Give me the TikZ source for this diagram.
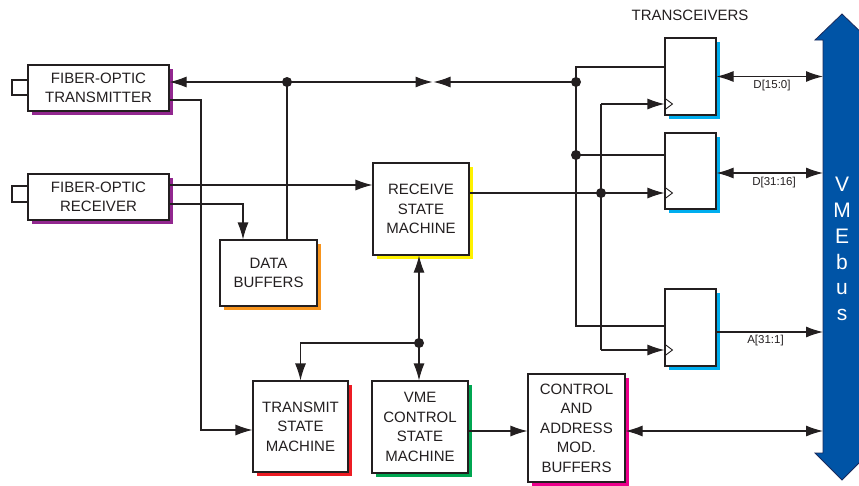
\documentclass[tikz,border=0pt]{standalone}
\usepackage{fontspec}
\setmainfont{Liberation Sans}
\usetikzlibrary{arrows.meta,shadows}
\definecolor{ink}{HTML}{231F20}
\definecolor{cpurple}{HTML}{92278F}
\definecolor{corange}{HTML}{F7941D}
\definecolor{cyellow}{HTML}{FFF200}
\definecolor{cred}{HTML}{ED1C24}
\definecolor{cgreen}{HTML}{00A651}
\definecolor{cmagenta}{HTML}{EC008C}
\definecolor{ccyan}{HTML}{00AEEF}
\definecolor{vmeblue}{HTML}{0054A6}
\definecolor{vmeedge}{HTML}{1B2A5C}
\begin{document}
\begin{tikzpicture}[x=1pt,y=-1pt,
  box/.style={draw=ink, fill=white, line width=1.1pt, inner sep=0pt, align=center,
    font=\fontsize{15}{19.5}\selectfont, text=ink},
  sh/.style={drop shadow={fill=#1, opacity=1, shadow xshift=3.5pt, shadow yshift=-3.5pt}},
  wire/.style={draw=ink, line width=1.1pt},
  arr/.style={wire, -{Latex[length=17pt,width=11pt]}},
  darr/.style={wire, {Latex[length=17pt,width=11pt]}-{Latex[length=17pt,width=11pt]}},
  dot/.style={circle, fill=ink, inner sep=0pt, minimum size=10pt},
  lab/.style={font=\fontsize{11.5}{13}\selectfont, text=ink, inner sep=0pt},
  ttl/.style={font=\fontsize{15}{18}\selectfont, text=ink, inner sep=0pt},
  clk/.style={draw=ink, line width=0.9pt}
]
\useasboundingbox (0,0) rectangle (859,485);

% VMEbus arrow
\filldraw[fill=vmeblue, draw=vmeedge, line width=0.8pt]
  (842,14) -- (869,40) -- (861,40) -- (861,453) -- (869,453) -- (842,480)
  -- (815,453) -- (823,453) -- (823,40) -- (815,40) -- cycle;
\node[font=\fontsize{21}{25.8}\selectfont, text=white, align=center, inner sep=0pt]
  (vmebus) at (842,249) {V\\M\\E\\b\\u\\s};
\coordinate (bus) at (823,0);

% boxes
\node[box, sh=cpurple, minimum width=141pt, minimum height=46pt] (fot) at (98.5,88) {FIBER-OPTIC\\TRANSMITTER};
\node[box, sh=cpurple, minimum width=141pt, minimum height=46pt] (for) at (98.5,197) {FIBER-OPTIC\\RECEIVER};
\node[box, minimum width=16pt, minimum height=15pt] (fotc) at (20,87.5) {};
\node[box, minimum width=16pt, minimum height=16pt] (forc) at (20,194) {};
\node[box, sh=corange, minimum width=97pt, minimum height=66pt] (db) at (268.5,273) {DATA\\BUFFERS};
\node[box, sh=cyellow, minimum width=96pt, minimum height=92pt] (rsm) at (421,209) {RECEIVE\\STATE\\MACHINE};
\node[box, sh=cred, minimum width=95pt, minimum height=91pt] (tsm) at (300.5,426.5) {TRANSMIT\\STATE\\MACHINE};
\node[box, sh=cgreen, minimum width=96pt, minimum height=92pt] (vme) at (420,427) {VME\\CONTROL\\STATE\\MACHINE};
\node[box, sh=cmagenta, minimum width=97pt, minimum height=108pt] (cab) at (576.5,428) {CONTROL\\AND\\ADDRESS\\MOD.\\BUFFERS};
\node[box, sh=ccyan, minimum width=51pt, minimum height=77pt] (t1) at (690.5,76.5) {};
\node[box, sh=ccyan, minimum width=51pt, minimum height=76pt] (t2) at (690.5,171) {};
\node[box, sh=ccyan, minimum width=51pt, minimum height=77pt] (t3) at (690.5,327.5) {};
\node[ttl] (trx) at (690,15) {TRANSCEIVERS};

% junction coordinates
\coordinate (j1) at (287,82);
\coordinate (m1) at (432.5,82);
\coordinate (m2) at (433.5,82);
\coordinate (b1) at (576,67);
\coordinate (j2) at (576,82);
\coordinate (j4) at (576,155);
\coordinate (b3) at (576,326);
\coordinate (c1) at (601,104);
\coordinate (j5) at (601,193);
\coordinate (c3) at (601,350);
\coordinate (j3) at (419,343);
\coordinate (c5) at (201,430);

% top data line
\draw[arr] (j1) -- (j1 -| fot.east);
\draw[arr] (j1) -- (m1);
\draw[arr] (j2) -- (m2);
\draw[wire] (db.north -| j1) -- (j1);

% transmitter to transmit SM
\draw[arr] ([yshift=-12pt]fot.east) -| (c5) -- (c5 -| tsm.west);
% receiver
\draw[arr] ([yshift=12pt]for.east) -- ([yshift=12pt]for.east -| rsm.west);
\draw[arr] ([yshift=-7pt]for.east) -| ([xshift=-25.5pt]db.north);

% transceiver data inputs
\draw[wire] (t1.west |- b1) -- (b1) -- (b3) -- (t3.west |- b3);
\draw[wire] (j4) -- (t2.west |- j4);
% clock lines
\draw[arr] (c1) -- (t1.west |- c1);
\draw[wire] (c1) -- (c3);
\draw[arr] (c3) -- (t3.west |- c3);
\draw[arr] (rsm.east |- j5) -- (t2.west |- j5);
% clock triangles
\draw[clk] (t1.west |- c1) ++(0,-6) -- ++(8,6) -- ++(-8,6);
\draw[clk] (t2.west |- j5) ++(0,-6) -- ++(8,6) -- ++(-8,6);
\draw[clk] (t3.west |- c3) ++(0,-6) -- ++(8,6) -- ++(-8,6);

% outputs to bus
\draw[darr] (t1.east) -- (t1.east -| bus);
\draw[darr] ([yshift=-2pt]t2.east) -- ([yshift=-2pt]t2.east -| bus);
\draw[arr] ([yshift=-4.5pt]t3.east) -- ([yshift=-4.5pt]t3.east -| bus);
\node[lab] (l1) at (772,86) {D[15:0]};
\node[lab] (l2) at (774,183) {D[31:16]};
\node[lab] (l3) at (765.5,341) {A[31:1]};

% bottom
\draw[arr] (j3) -- (j3 |- rsm.south);
\draw[arr] (j3) -- (j3 |- vme.north);
\draw[arr] (j3) -| (tsm.north);
\draw[arr] ([yshift=-4pt]vme.east) -- ([yshift=-4pt]vme.east -| cab.west);
\draw[darr] ([yshift=-3pt]cab.east) -- ([yshift=-3pt]cab.east -| bus);

% dots
\node[dot] (dj1) at (j1) {};
\node[dot] (dj2) at (j2) {};
\node[dot] (dj4) at (j4) {};
\node[dot] (dj5) at (j5) {};
\node[dot] (dj3) at (j3) {};
\end{tikzpicture}
\end{document}
